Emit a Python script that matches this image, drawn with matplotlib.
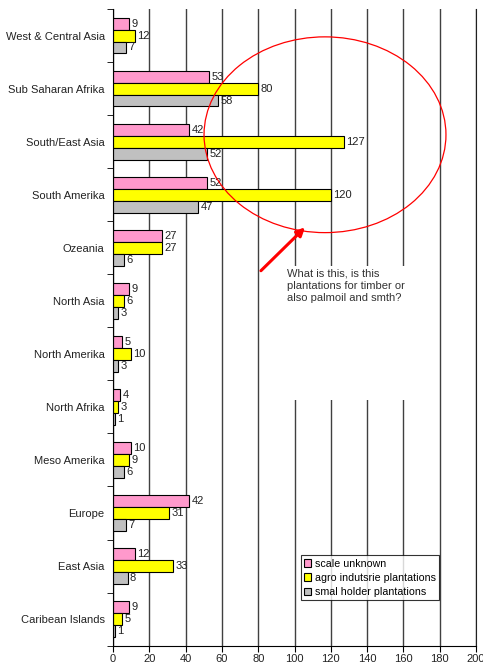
import numpy as np
import matplotlib
matplotlib.use("Agg")
import matplotlib.pyplot as plt
from matplotlib.patches import Ellipse, Rectangle

plt.rcParams['font.family'] = ['Liberation Sans', 'DejaVu Sans']

regions = ["West & Central Asia", "Sub Saharan Afrika", "South/East Asia", "South Amerika",
           "Ozeania", "North Asia", "North Amerika", "North Afrika", "Meso Amerika",
           "Europe", "East Asia", "Caribean Islands"]
scale_unknown = [9, 53, 42, 52, 27, 9, 5, 4, 10, 42, 12, 9]
agro_industrie = [12, 80, 127, 120, 27, 6, 10, 3, 9, 31, 33, 5]
smal_holder = [7, 58, 52, 47, 6, 3, 3, 1, 6, 7, 8, 1]

series = [("scale unknown", scale_unknown, "#FF99CC"),
          ("agro indutsrie plantations", agro_industrie, "#FFFF00"),
          ("smal holder plantations", smal_holder, "#C0C0C0")]

fig = plt.figure(figsize=(4.83, 6.67), dpi=100)
ax = fig.add_axes([0.234, 0.032, 0.7515, 0.9545])

y = np.arange(len(regions))
h = 0.225
for k, (name, vals, col) in enumerate(series):
    pos = y + (k - 1) * h
    ax.barh(pos, vals, height=h, color=col, edgecolor="black", linewidth=0.8, label=name, zorder=2)
    for p, v in zip(pos, vals):
        ax.text(v + 1.3, p, str(v), va="center", ha="left", fontsize=8, color="#222222", zorder=3)

ax.set_xlim(0, 200)
ax.set_ylim(len(regions) - 0.5, -0.5)
ax.set_xticks(np.arange(0, 201, 20))
ax.set_yticks(y)
ax.set_yticklabels(regions, fontsize=8, color="#222222")
ax.set_yticks(np.arange(-0.5, len(regions), 1), minor=True)
ax.tick_params(axis="y", which="major", length=0, pad=6)
ax.tick_params(axis="y", which="minor", length=4, direction="out")
ax.tick_params(axis="x", labelsize=8, length=4, pad=2, direction="out", labelcolor="#222222")

ax.set_axisbelow(True)
ax.grid(axis="x", color="#404040", linewidth=1)
ax.spines["top"].set_visible(False)
ax.spines["right"].set_color("#202020")

# white box behind comment hides the grid lines
ax.add_patch(Rectangle((81, 4.35), 98, 2.52, facecolor="white", edgecolor="none", zorder=1))
ax.add_patch(Ellipse((116.8, 1.87), 133.3, 3.69, fill=False, edgecolor="red", linewidth=0.9, zorder=4))
ax.annotate("", xy=(106.9, 3.58), xytext=(80.4, 4.47),
            arrowprops=dict(arrowstyle="-|>", color="red", lw=2.2, mutation_scale=12), zorder=4)
ax.text(95.9, 4.4, "What is this, is this\nplantations for timber or\nalso palmoil and smth?",
        fontsize=8, va="top", ha="left", color="#333333", linespacing=1.25, zorder=4)

leg = ax.legend(loc="lower left", bbox_to_anchor=(0.517, 0.071), fontsize=7.7, frameon=True,
                fancybox=False, edgecolor="black", handlelength=0.7, handleheight=0.7,
                handletextpad=0.3, borderpad=0.3, labelspacing=0.4, borderaxespad=0)
leg.get_frame().set_linewidth(0.8)

plt.savefig("out.png", dpi=100)
